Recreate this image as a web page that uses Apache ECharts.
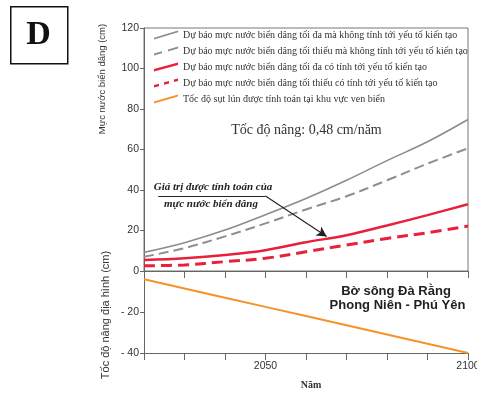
<!DOCTYPE html>
<html>
<head>
<meta charset="utf-8">
<style>
  html, body { margin: 0; padding: 0; background: #ffffff; }
  #chart { width: 477px; height: 393px; }
</style>
<script src="https://cdn.jsdelivr.net/npm/echarts@6/dist/echarts.min.js"></script>
</head>
<body>
<div id="chart"></div>
<script>
// Years on the horizontal axis (one point per decade)
const years = [2020, 2030, 2040, 2050, 2060, 2070, 2080, 2090, 2100];
const xTickLabels = [2050, 2100];
const upperTicks = [0, 20, 40, 60, 80, 100, 120];
const lowerTicks = [-40, -20, 0];

// Sea level rise projections (cm)
const maxNoTectonic = [9.2, 14.0, 20.2, 27.8, 35.8, 44.8, 54.5, 63.8, 74.8];
const minNoTectonic = [7.0, 11.3, 17.1, 23.5, 30.4, 36.9, 44.8, 53.0, 60.6];
const maxTectonic   = [5.4, 6.3, 7.9, 10.3, 14.2, 17.7, 22.5, 27.6, 33.0];
const minTectonic   = [2.6, 3.0, 4.6, 6.3, 9.5, 12.8, 16.1, 18.9, 22.2];

// Computed coastal subsidence (cm)
const subsidence = [-4, -8.5, -13, -17.5, -22, -26.5, -31, -35.5, -40];

const names = [
  'Dự báo mực nước biển dâng tối đa mà không tính tới yếu tố kiến tạo',
  'Dự báo mực nước biển dâng tối thiểu mà không tính tới yếu tố kiến tạo',
  'Dự báo mực nước biển dâng tối đa có tính tới yếu tố kiến tạo',
  'Dự báo mực nước biển dâng tối thiểu có tính tới yếu tố kiến tạo',
  'Tốc độ sụt lún được tính toán tại khu vực ven biển'
];

const pair = (arr) => years.map((y, i) => [y, arr[i]]);
const bandWidth = years.map((y, i) => [y, maxTectonic[i] - minTectonic[i]]);

// Slanted legend glyphs
const icons = [
  'path://M0,7.3L24,0L24,1.7L0,9Z',
  'path://M0,7L8,4.67L8,6.67L0,9ZM14,2.92L24,0L24,2L14,4.92Z',
  'path://M0,6.5L24,0L24,2.5L0,9Z',
  'path://M0,6.5L5,5.15L5,7.65L0,9ZM10,3.79L15,2.44L15,4.94L10,6.29ZM20,1.08L24,0L24,2.5L20,3.58Z',
  'path://M0,7L24,0L24,2L0,9Z'
];

const SANS = 'Liberation Sans';
const SERIF = 'Liberation Serif';
const axisCol = '#666';

const xBase = {
  type: 'value', min: 2020, max: 2100, interval: 10,
  axisLine: { show: true, onZero: false, lineStyle: { color: axisCol, width: 1 } },
  axisTick: { show: true, inside: false, length: 7, lineStyle: { color: axisCol } },
  splitLine: { show: false }
};
const yBase = {
  type: 'value', interval: 20,
  axisLine: { show: true, onZero: false, lineStyle: { color: axisCol, width: 1 } },
  axisTick: { show: true, length: 4, lineStyle: { color: axisCol } },
  axisLabel: { fontFamily: SANS, fontSize: 10.5, color: '#333', margin: 5 },
  splitLine: { show: false }
};

const chart = echarts.init(document.getElementById('chart'), null, { renderer: 'canvas' });

chart.setOption({
  animation: false,
  backgroundColor: '#ffffff',
  grid: [
    { left: 144, right: 9, top: 28, height: 243, containLabel: false, outerBoundsMode: 'none',
      show: true, borderColor: '#777', borderWidth: 1, backgroundColor: 'transparent' },
    { left: 144, right: 9, top: 271, height: 82, containLabel: false, outerBoundsMode: 'none' }
  ],
  xAxis: [
    Object.assign({}, xBase, { gridIndex: 0, position: 'bottom', axisLabel: { show: false } }),
    Object.assign({}, xBase, {
      gridIndex: 1, position: 'bottom',
      axisLabel: {
        fontFamily: SANS, fontSize: 10.5, color: '#333', margin: 8,
        hideOverlap: false,
        formatter: (v) => xTickLabels.includes(v) ? String(v) : ''
      },
      name: 'Năm', nameLocation: 'middle', nameGap: 27,
      nameTextStyle: { fontFamily: SERIF, fontWeight: 'bold', fontSize: 10, color: '#333', padding: [0, 0, 0, 10] }
    })
  ],
  yAxis: [
    Object.assign({}, yBase, {
      gridIndex: 0, min: upperTicks[0], max: upperTicks[upperTicks.length - 1]
    }),
    Object.assign({}, yBase, {
      gridIndex: 1, min: lowerTicks[0], max: lowerTicks[lowerTicks.length - 1],
      axisLabel: Object.assign({}, yBase.axisLabel, {
        formatter: (v) => v === 0 ? '' : '- ' + Math.abs(v)
      })
    })
  ],
  legend: {
    orient: 'vertical', left: 154, top: 30, padding: 0,
    itemWidth: 24, itemHeight: 9, itemGap: 6,
    itemStyle: { borderWidth: 0 },
    textStyle: { fontFamily: SERIF, fontSize: 10, color: '#333' },
    data: names.map((n, i) => ({ name: n, icon: icons[i] }))
  },
  series: [
    {
      name: 'band-base', type: 'line', xAxisIndex: 0, yAxisIndex: 0, stack: 'band',
      data: pair(minTectonic), smooth: 0.35, symbol: 'none', silent: true,
      lineStyle: { width: 0, opacity: 0 }
    },
    {
      name: 'band', type: 'line', xAxisIndex: 0, yAxisIndex: 0, stack: 'band',
      data: bandWidth, smooth: 0.35, symbol: 'none', silent: true,
      lineStyle: { width: 0, opacity: 0 },
      areaStyle: { color: '#d0d0d0', opacity: 1 }
    },
    {
      name: names[0], type: 'line', xAxisIndex: 0, yAxisIndex: 0,
      data: pair(maxNoTectonic), smooth: 0.35, symbol: 'none', color: '#8c8c8c',
      lineStyle: { color: '#8c8c8c', width: 1.6 }
    },
    {
      name: names[1], type: 'line', xAxisIndex: 0, yAxisIndex: 0,
      data: pair(minNoTectonic), smooth: 0.35, symbol: 'none', color: '#8f8f8f',
      lineStyle: { color: '#8f8f8f', width: 2, type: [10, 5] }
    },
    {
      name: names[2], type: 'line', xAxisIndex: 0, yAxisIndex: 0,
      data: pair(maxTectonic), smooth: 0.35, symbol: 'none', color: '#e8203c',
      lineStyle: { color: '#e8203c', width: 2.5 },
      markLine: {
        silent: true, animation: false,
        symbol: ['none', 'arrow'], symbolSize: [8, 10],
        label: { show: false },
        lineStyle: { color: '#222', width: 1.1, type: 'solid' },
        data: [
          [ { coord: [2023.5, 37], symbol: 'none' }, { coord: [2050, 37], symbol: 'none' } ],
          [ { coord: [2050, 37], symbol: 'none' }, { coord: [2065.1, 17] } ]
        ]
      }
    },
    {
      name: names[3], type: 'line', xAxisIndex: 0, yAxisIndex: 0,
      data: pair(minTectonic), smooth: 0.35, symbol: 'none', color: '#e8203c',
      lineStyle: { color: '#e8203c', width: 3, type: [11, 6] }
    },
    {
      name: names[4], type: 'line', xAxisIndex: 1, yAxisIndex: 1,
      data: pair(subsidence), symbol: 'none', color: '#f5922a',
      lineStyle: { color: '#f5922a', width: 2 }
    }
  ],
  graphic: [
    // Panel letter
    { type: 'rect', left: 10, top: 6, shape: { width: 57, height: 57 },
      style: { fill: '#fff', stroke: '#111', lineWidth: 1.5 } },
    { type: 'text', x: 38.5, y: 35, style: { text: 'D', font: 'bold 34px "Liberation Serif"', fill: '#111', align: 'center', verticalAlign: 'middle' } },
    // Axis titles
    { type: 'text', x: 102, y: 79, rotation: Math.PI / 2,
      style: { text: 'Mực nước biển dâng (cm)', font: '9.5px "Liberation Sans"', fill: '#333', align: 'center', verticalAlign: 'middle' } },
    { type: 'text', x: 106, y: 315, rotation: Math.PI / 2,
      style: { text: 'Tốc độ nâng địa hình (cm)', font: '11px "Liberation Sans"', fill: '#333', align: 'center', verticalAlign: 'middle' } },
    // Annotations
    { type: 'text', x: 306.5, y: 130,
      style: { text: 'Tốc độ nâng: 0,48 cm/năm', font: '14px "Liberation Serif"', fill: '#333', align: 'center', verticalAlign: 'middle' } },
    { type: 'text', x: 213, y: 187.5,
      style: { text: 'Giá trị được tính toán của', font: 'italic bold 11px "Liberation Serif"', fill: '#222', align: 'center', verticalAlign: 'middle' } },
    { type: 'text', x: 211, y: 204.5,
      style: { text: 'mực nước biển dâng', font: 'italic bold 11px "Liberation Serif"', fill: '#222', align: 'center', verticalAlign: 'middle' } },
    { type: 'text', x: 396, y: 291,
      style: { text: 'Bờ sông Đà Rằng', font: 'bold 13px "Liberation Sans"', fill: '#222', align: 'center', verticalAlign: 'middle' } },
    { type: 'text', x: 397.5, y: 305.5,
      style: { text: 'Phong Niên - Phú Yên', font: 'bold 13px "Liberation Sans"', fill: '#222', align: 'center', verticalAlign: 'middle' } }
  ]
});
</script>
</body>
</html>
